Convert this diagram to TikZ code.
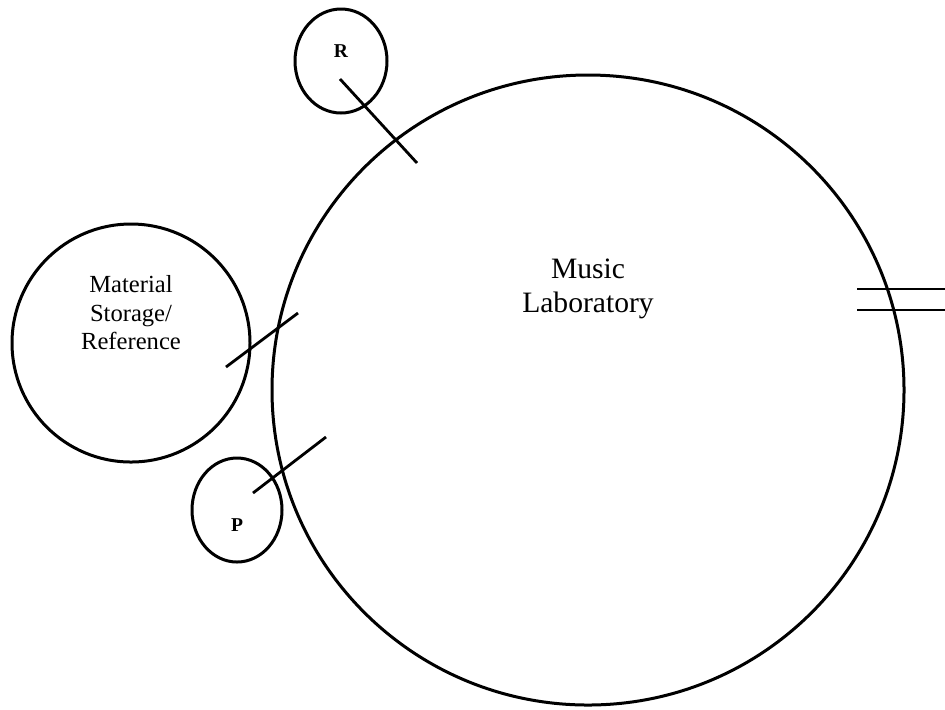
\documentclass[tikz,border=0pt]{standalone}
\usepackage{fontspec}
\setmainfont{Liberation Serif}
\usetikzlibrary{shapes.geometric}
\begin{document}
\begin{tikzpicture}[x=0.5pt,y=-0.5pt,
  room/.style={draw, ellipse, line width=1.5pt, inner sep=0pt},
  wall/.style={line width=1.4pt},
  bigtxt/.style={font=\fontsize{14.8}{16.8}\selectfont, inner sep=0pt, anchor=base},
  midtxt/.style={font=\fontsize{12.3}{14.3}\selectfont, inner sep=0pt, anchor=base},
  smalltxt/.style={font=\fontsize{9.8}{11}\selectfont\bfseries, inner sep=0pt, anchor=base}]
\useasboundingbox (0,0) rectangle (945,709);
% rooms
\node[room, minimum width=316pt, minimum height=315pt] (lab) at (588,390) {};
\node[room, minimum width=119pt, minimum height=119pt] (store) at (131,343) {};
\node[room, minimum width=46pt, minimum height=52pt] (rroom) at (341,61) {};
\node[room, minimum width=45pt, minimum height=52pt] (proom) at (237,510) {};
% labels
\node[bigtxt] (lab1) at (588,278) {Music};
\node[bigtxt] (lab2) at (588,312) {Laboratory};
\node[midtxt] (st1) at (131,292) {Material};
\node[midtxt] (st2) at (131,321) {Storage/};
\node[midtxt] (st3) at (131,349) {Reference};
\node[smalltxt] (rl) at (341,57) {R};
\node[smalltxt] (pl) at (237,531) {P};
% doors
\coordinate (r1) at (340,79);
\coordinate (r2) at (417,163);
\draw[wall] (r1) -- (r2);
\coordinate (m1) at (226,367);
\coordinate (m2) at (298,313);
\draw[wall] (m1) -- (m2);
\coordinate (p1) at (253,493);
\coordinate (p2) at (326,437);
\draw[wall] (p1) -- (p2);
\coordinate (e1) at (857,289);
\coordinate (e2) at (945,289);
\coordinate (e3) at (857,310);
\coordinate (e4) at (945,310);
\draw[wall] (e1) -- (e2);
\draw[wall] (e3) -- (e4);
\end{tikzpicture}
\end{document}
